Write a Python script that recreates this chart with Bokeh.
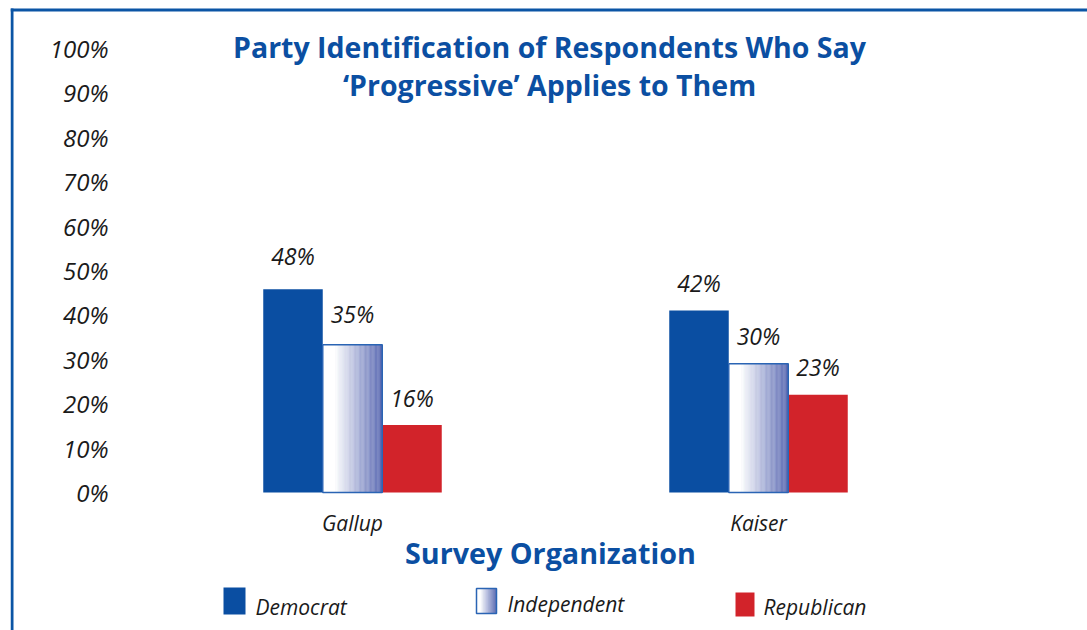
import numpy as np
from bokeh.plotting import figure
from bokeh.models import Range1d, FixedTicker, ColumnDataSource, BoxAnnotation
from bokeh.core.properties import value
from bokeh.embed import file_html
from bokeh.resources import INLINE

# ---------------- data ----------------
organizations = ["Gallup", "Kaiser"]
parties = ["Democrat", "Independent", "Republican"]
democrat = [45.8, 41.0]          # drawn bar heights (%)
independent = [33.3, 29.0]
republican = [15.2, 22.0]
democrat_labels = [48, 42]       # printed value labels (%)
independent_labels = [35, 30]
republican_labels = [16, 23]
y_ticks = [0, 10, 20, 30, 40, 50, 60, 70, 80, 90, 100]
y_tick_labels = ["0%", "10%", "20%", "30%", "40%", "50%", "60%", "70%", "80%", "90%", "100%"]
title_lines = ["Party Identification of Respondents Who Say",
               "\u2018Progressive\u2019 Applies to Them"]
x_title = "Survey Organization"

# ---------------- styling / layout ----------------
W, H = 1087, 630
FRAME_LEFT = 10
LABEL_RIGHT = 108
GROUP0_PX = 352.0      # pixel centre of first group
GROUP_STEP = 406.0     # pixels between group centres
ZERO_PX = 492.0        # pixel row of 0%
PX_PER_PCT = 4.44
BAR_W = 59.5 / GROUP_STEP

BLUE = "#0a4ea2"
RED = "#d2232a"
IND_EDGE = "#2a64b4"
TITLE_BLUE = "#0b4fa2"
FRAME_BLUE = "#0b55a5"
FONT = "Open Sans"


def xd(px):
    return (px - GROUP0_PX) / GROUP_STEP


def yd(py):
    return (ZERO_PX - py) / PX_PER_PCT


p = figure(width=W, height=H,
           x_range=Range1d(xd(FRAME_LEFT), xd(W)),
           y_range=Range1d(yd(H), yd(0)),
           output_backend="svg", toolbar_location=None,
           x_axis_location=None,
           min_border_left=FRAME_LEFT, min_border_right=0,
           min_border_top=0, min_border_bottom=0)
p.outline_line_color = None
p.grid.visible = False
p.background_fill_color = "white"
p.border_fill_color = "white"

ax = p.yaxis[0]
ax.ticker = FixedTicker(ticks=y_ticks)
ax.major_label_overrides = {t: l for t, l in zip(y_ticks, y_tick_labels)}
ax.axis_line_color = None
ax.major_tick_line_color = None
ax.minor_tick_line_color = None
ax.major_tick_out = 0
ax.major_tick_in = 0
ax.major_label_standoff = -(LABEL_RIGHT - FRAME_LEFT)
ax.major_label_text_font = FONT
ax.major_label_text_font_style = "italic"
ax.major_label_text_font_size = "24px"
ax.major_label_text_color = "#1a1a1a"

centers = np.arange(len(organizations), dtype=float)


def pct_text(vals):
    return ["%d%%" % v for v in vals]


# Democrat bars
src_d = ColumnDataSource(dict(left=centers - 1.5 * BAR_W, right=centers - 0.5 * BAR_W,
                              top=democrat, bottom=[0] * len(democrat),
                              lv=democrat_labels, label=pct_text(democrat_labels),
                              xc=centers - BAR_W))
p.quad(left="left", right="right", top="top", bottom="bottom", source=src_d,
       fill_color=BLUE, line_color=None)

# Republican bars
src_r = ColumnDataSource(dict(left=centers + 0.5 * BAR_W, right=centers + 1.5 * BAR_W,
                              top=republican, bottom=[0] * len(republican),
                              lv=republican_labels, label=pct_text(republican_labels),
                              xc=centers + BAR_W))
p.quad(left="left", right="right", top="top", bottom="bottom", source=src_r,
       fill_color=RED, line_color=None)

# Independent bars: horizontal white -> blue gradient built from thin slices
N = 48
start_rgb = np.array([255, 255, 255])
end_rgb = np.array([88, 104, 178])


def grad_color(t):
    s = np.clip((t - 0.2) / 0.8, 0, 1)
    c = start_rgb + (end_rgb - start_rgb) * s
    return "#%02x%02x%02x" % tuple(int(round(v)) for v in c)


def gradient_slices(left, right, bottom, top):
    edges = np.linspace(left, right, N + 1)
    return dict(left=list(edges[:-1]), right=list(edges[1:]),
                top=[top] * N, bottom=[bottom] * N,
                color=[grad_color((i + 0.5) / N) for i in range(N)])


sl = dict(left=[], right=[], top=[], bottom=[], color=[])
for c, v in zip(centers, independent):
    d = gradient_slices(c - 0.5 * BAR_W, c + 0.5 * BAR_W, 0, v)
    for k in sl:
        sl[k].extend(d[k])
p.quad(left="left", right="right", top="top", bottom="bottom",
       source=ColumnDataSource(sl), fill_color="color", line_color="color", line_width=0.3)
src_i = ColumnDataSource(dict(left=centers - 0.5 * BAR_W, right=centers + 0.5 * BAR_W,
                              top=independent, bottom=[0] * len(independent),
                              lv=independent_labels, label=pct_text(independent_labels),
                              xc=centers))
p.quad(left="left", right="right", top="top", bottom="bottom", source=src_i,
       fill_color=None, line_color=IND_EDGE, line_width=1.5)

# value labels
for src in (src_d, src_i, src_r):
    p.text(x="xc", y="lv", text="label", source=src,
           text_align="center", text_baseline="middle", y_offset=-23,
           text_font=value(FONT), text_font_style="italic",
           text_font_size="23px", text_color="#1a1a1a")

# category labels
p.text(x=list(centers), y=[yd(522.5)] * len(organizations), text=organizations,
       text_align="center", text_baseline="middle",
       text_font=value(FONT), text_font_style="italic",
       text_font_size="21px", text_color="#1a1a1a")

# titles
p.text(x=[xd(549)] * 2, y=[yd(46.8), yd(84)], text=title_lines,
       text_align="center", text_baseline="middle",
       text_font=value(FONT), text_font_style="bold",
       text_font_size="28.5px", text_color=TITLE_BLUE)
p.text(x=[xd(550)], y=[yd(551.5)], text=[x_title],
       text_align="center", text_baseline="middle",
       text_font=value(FONT), text_font_style="bold",
       text_font_size="28.7px", text_color=TITLE_BLUE)

# legend (manual keys)
leg_boxes = [(223, 245, 587, 614), (476, 496, 588, 613), (735, 754, 592, 616)]
leg_text = [(255, 606), (507, 603), (763, 606)]
p.quad(left=[xd(leg_boxes[0][0])], right=[xd(leg_boxes[0][1])],
       top=[yd(leg_boxes[0][2])], bottom=[yd(leg_boxes[0][3])],
       fill_color=BLUE, line_color=None)
p.quad(left=[xd(leg_boxes[2][0])], right=[xd(leg_boxes[2][1])],
       top=[yd(leg_boxes[2][2])], bottom=[yd(leg_boxes[2][3])],
       fill_color=RED, line_color=None)
lb = leg_boxes[1]
gd = gradient_slices(xd(lb[0]), xd(lb[1]), yd(lb[3]), yd(lb[2]))
p.quad(left="left", right="right", top="top", bottom="bottom",
       source=ColumnDataSource(gd), fill_color="color", line_color="color", line_width=0.3)
p.quad(left=[xd(lb[0])], right=[xd(lb[1])], top=[yd(lb[2])], bottom=[yd(lb[3])],
       fill_color=None, line_color=IND_EDGE, line_width=1.5)
p.text(x=[xd(t[0]) for t in leg_text], y=[yd(t[1]) for t in leg_text], text=parties,
       text_align="left", text_baseline="middle",
       text_font=value(FONT), text_font_style="italic",
       text_font_size="21px", text_color="#1a1a1a")

# page frame lines (top and left)
p.add_layout(BoxAnnotation(left=10, right=W, top=8, bottom=11,
                           left_units="canvas", right_units="canvas",
                           top_units="canvas", bottom_units="canvas",
                           fill_color=FRAME_BLUE, fill_alpha=1, line_color=None,
                           level="overlay"))
p.add_layout(BoxAnnotation(left=10, right=13, top=8, bottom=H,
                           left_units="canvas", right_units="canvas",
                           top_units="canvas", bottom_units="canvas",
                           fill_color=FRAME_BLUE, fill_alpha=1, line_color=None,
                           level="overlay"))

open("out.html", "w").write(file_html(p, INLINE))
